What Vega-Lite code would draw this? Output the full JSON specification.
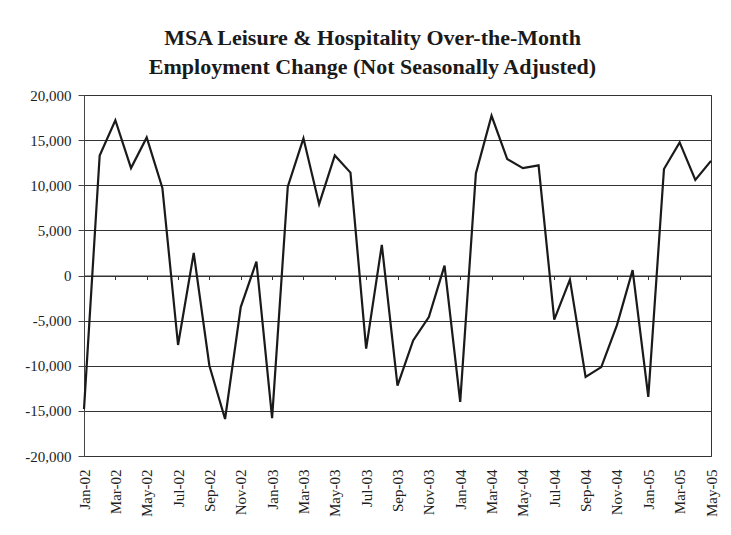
{
  "$schema": "https://vega.github.io/schema/vega-lite/v6.json",
  "autosize": {"type": "none"},
  "width": 627,
  "height": 361,
  "padding": {"left": 84, "top": 95, "right": 20, "bottom": 79},
  "background": "white",
  "title": {
    "text": ["MSA Leisure & Hospitality Over-the-Month", "Employment Change (Not Seasonally Adjusted)"],
    "font": "Liberation Serif",
    "fontSize": 22,
    "fontWeight": "bold",
    "color": "#1a1a1a",
    "lineHeight": 29,
    "anchor": "middle",
    "frame": "group",
    "dx": -25,
    "offset": 9
  },
  "config": {
    "view": {"stroke": "#333333", "strokeWidth": 1},
    "axis": {"labelFont": "Liberation Serif", "labelFontSize": 15, "labelColor": "#1e1e1e"}
  },
  "data": {
    "values": [
      {"month": "Jan-02", "change": -14800},
      {"month": "Feb-02", "change": 13300},
      {"month": "Mar-02", "change": 17200},
      {"month": "Apr-02", "change": 11900},
      {"month": "May-02", "change": 15300},
      {"month": "Jun-02", "change": 9700},
      {"month": "Jul-02", "change": -7700},
      {"month": "Aug-02", "change": 2500},
      {"month": "Sep-02", "change": -10000},
      {"month": "Oct-02", "change": -15900},
      {"month": "Nov-02", "change": -3500},
      {"month": "Dec-02", "change": 1550},
      {"month": "Jan-03", "change": -15800},
      {"month": "Feb-03", "change": 9850},
      {"month": "Mar-03", "change": 15200},
      {"month": "Apr-03", "change": 7900},
      {"month": "May-03", "change": 13300},
      {"month": "Jun-03", "change": 11400},
      {"month": "Jul-03", "change": -8100},
      {"month": "Aug-03", "change": 3400},
      {"month": "Sep-03", "change": -12200},
      {"month": "Oct-03", "change": -7200},
      {"month": "Nov-03", "change": -4600},
      {"month": "Dec-03", "change": 1100},
      {"month": "Jan-04", "change": -14000},
      {"month": "Feb-04", "change": 11300},
      {"month": "Mar-04", "change": 17700},
      {"month": "Apr-04", "change": 12900},
      {"month": "May-04", "change": 11900},
      {"month": "Jun-04", "change": 12200},
      {"month": "Jul-04", "change": -4900},
      {"month": "Aug-04", "change": -450},
      {"month": "Sep-04", "change": -11250},
      {"month": "Oct-04", "change": -10150},
      {"month": "Nov-04", "change": -5500},
      {"month": "Dec-04", "change": 600},
      {"month": "Jan-05", "change": -13450},
      {"month": "Feb-05", "change": 11800},
      {"month": "Mar-05", "change": 14750},
      {"month": "Apr-05", "change": 10600},
      {"month": "May-05", "change": 12700}
    ]
  },
  "encoding": {
    "y": {
      "field": "change",
      "type": "quantitative",
      "scale": {"domain": [-20000, 20000], "nice": false, "zero": false},
      "axis": {
        "title": null,
        "values": [-20000, -15000, -10000, -5000, 0, 5000, 10000, 15000, 20000],
        "format": ",d",
        "labelExpr": "replace(datum.label, '−', '-')",
        "grid": true,
        "gridColor": "#333333",
        "gridWidth": 1,
        "gridOpacity": 1,
        "domain": true,
        "domainColor": "#444444",
        "ticks": true,
        "tickColor": "#444444",
        "tickSize": 6,
        "labelPadding": 7
      }
    }
  },
  "layer": [
    {
      "mark": {"type": "point", "opacity": 0},
      "encoding": {
        "x": {
          "field": "month",
          "type": "ordinal",
          "sort": null,
          "scale": {"type": "point", "padding": 0},
          "axis": {
            "title": null,
            "orient": "bottom",
            "values": ["Jan-02", "Mar-02", "May-02", "Jul-02", "Sep-02", "Nov-02", "Jan-03", "Mar-03", "May-03", "Jul-03", "Sep-03", "Nov-03", "Jan-04", "Mar-04", "May-04", "Jul-04", "Sep-04", "Nov-04", "Jan-05", "Mar-05", "May-05"],
            "labelAngle": -90,
            "labelPadding": 13,
            "ticks": false,
            "domain": false,
            "grid": false
          }
        }
      }
    },
    {
      "mark": {"type": "line", "color": "#1a1a1a", "strokeWidth": 2.2},
      "encoding": {
        "x": {
          "field": "month",
          "type": "ordinal",
          "sort": null,
          "scale": {"type": "point", "padding": 0},
          "axis": {
            "title": null,
            "orient": "bottom",
            "offset": -180.5,
            "values": ["Mar-02", "May-02", "Jul-02", "Sep-02", "Nov-02", "Jan-03", "Mar-03", "May-03", "Jul-03", "Sep-03", "Nov-03", "Jan-04", "Mar-04", "May-04", "Jul-04", "Sep-04", "Nov-04", "Jan-05", "Mar-05", "May-05"],
            "labels": false,
            "ticks": true,
            "tickSize": 4,
            "tickColor": "#333333",
            "domain": true,
            "domainColor": "#333333",
            "grid": false
          }
        }
      }
    }
  ],
  "resolve": {"axis": {"x": "independent"}}
}
